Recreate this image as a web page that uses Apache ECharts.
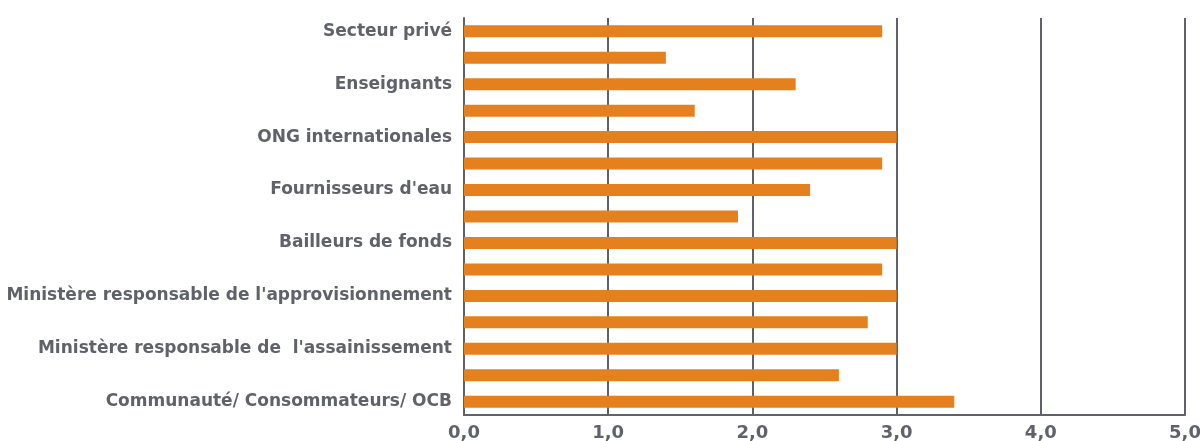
<!DOCTYPE html>
<html><head><meta charset="utf-8">
<script src="https://cdn.jsdelivr.net/npm/echarts@6/dist/echarts.min.js"></script>
<style>html,body{margin:0;padding:0;background:#fff}#c{width:1200px;height:441px}</style>
</head><body><div id="c"></div>
<script>
const categories = ["Secteur privé", "", "Enseignants", "", "ONG internationales", "", "Fournisseurs d'eau", "", "Bailleurs de fonds", "", "Ministère responsable de l'approvisionnement", "", "Ministère responsable de  l'assainissement", "", "Communauté/ Consommateurs/ OCB"];
const values = [2.9, 1.4, 2.3, 1.6, 3.0, 2.9, 2.4, 1.9, 3.0, 2.9, 3.0, 2.8, 3.0, 2.6, 3.4];
const xTicks = [0, 1, 2, 3, 4, 5];

const gray = '#5f6369';
const chart = echarts.init(document.getElementById('c'));
chart.setOption({
  animation: false,
  grid: { left: 464, right: 15, top: 18, bottom: 26, containLabel: false, outerBoundsMode: 'none' },
  xAxis: {
    type: 'value', min: xTicks[0], max: xTicks[xTicks.length - 1], interval: 1,
    axisLine: { show: true, lineStyle: { color: gray, width: 2 } },
    axisTick: { show: false },
    splitLine: { show: true, lineStyle: { color: gray, width: 2 } },
    axisLabel: {
      color: gray, fontFamily: 'DejaVu Sans', fontWeight: 'bold', fontSize: 18, margin: 9,
      formatter: v => v.toFixed(1).replace('.', ',')
    }
  },
  yAxis: {
    type: 'category', data: categories, inverse: true,
    axisLine: { show: true, lineStyle: { color: gray, width: 2 } },
    axisTick: { show: false },
    axisLabel: { interval: 0, color: gray, fontFamily: 'DejaVu Sans', fontWeight: 'bold', fontSize: 17, margin: 12 }
  },
  series: [{
    type: 'bar', data: values, barWidth: 12,
    itemStyle: { color: '#e5801e' }
  }]
});
</script></body></html>
